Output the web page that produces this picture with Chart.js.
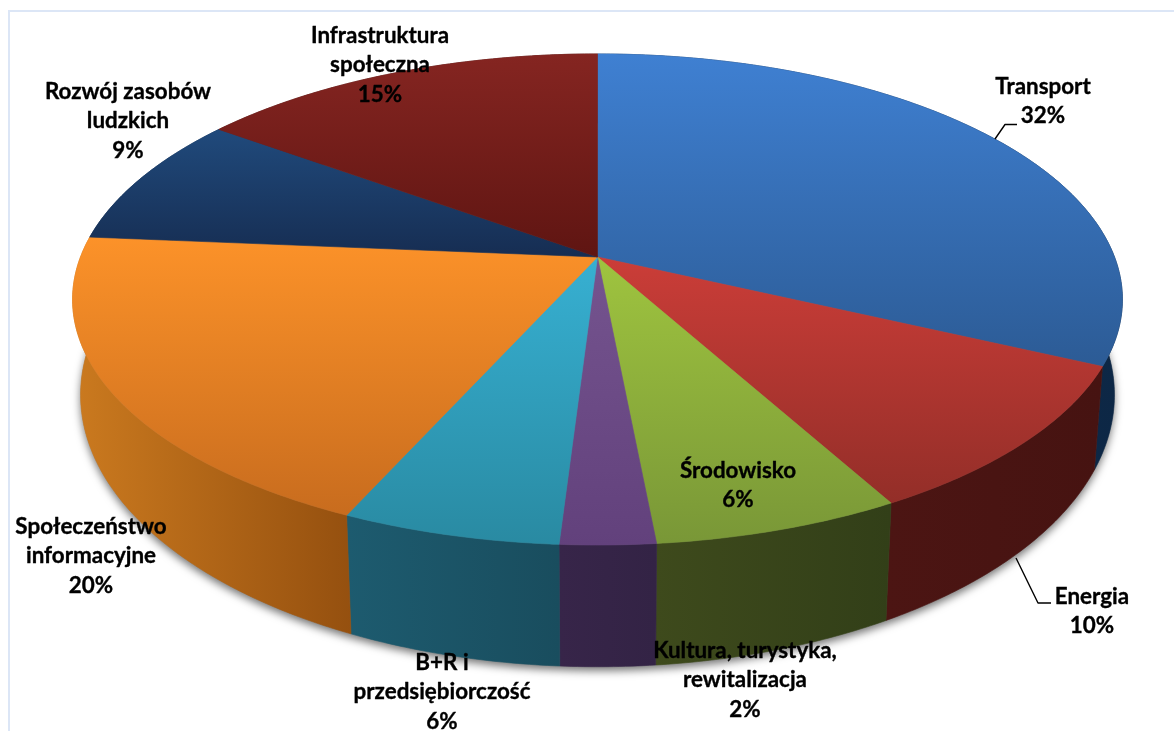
<!DOCTYPE html>
<html lang="pl">
<head>
<meta charset="utf-8">
<title>Wykres</title>
<script src="https://cdn.jsdelivr.net/npm/chart.js@4"></script>
<style>html,body{margin:0;padding:0;background:#fff}canvas{display:block}</style>
</head>
<body>
<canvas id="c" width="1174" height="731"></canvas>
<script>
// Data (slice sizes; labels show the rounded percentage)
const categories = [
  ['Transport'],
  ['Energia'],
  ['Środowisko'],
  ['Kultura, turystyka,', 'rewitalizacja'],
  ['B+R i', 'przedsiębiorczość'],
  ['Społeczeństwo', 'informacyjne'],
  ['Rozwój zasobów', 'ludzkich'],
  ['Infrastruktura', 'społeczna']
];
const shares = [32, 10, 6.49, 2.49, 5.72, 19.65, 8.7, 14.95];

// Styles
const topLight  = ['#3f80d2', '#cb3d38', '#9fc43f', '#75548f', '#37b0d2', '#fc9229', '#204a7c', '#852521'];
const topDark   = ['#2c5b95', '#932e28', '#799737', '#62417c', '#298aa2', '#c86c1e', '#162d52', '#5f1512'];
const wallLight = ['#102f55', '#4c1513', '#3e4a1c', '#372549', '#1d5b6f', '#cb7a1f', '#0f2c50', '#4a1412'];
const wallDark  = ['#0d2745', '#461311', '#323f18', '#332345', '#194d5e', '#95500f', '#0f2c50', '#4a1412'];

// Label anchors: centre x, then the centre y of the first line
const labelAnchors = [[1043, 87], [1092, 597], [738, 471], [745, 651], [442, 663], [91, 527], [128, 92], [380, 36]];
const lineStep = 29.2;
const labelFont = 'bold 22.4px Lato, Carlito, "Open Sans", sans-serif';
const leaders = [
  [[995, 139], [1005, 124.5], [1017, 124.5]],
  [[1016, 558], [1038, 603], [1051, 603]]
];

// Perspective camera for the tilted disc
const view = { cx: 597.5, cy: 257, sx: 517, tilt: -0.173, depth: 0.015, ay0: 238.2, ay1: 252, drop: 93 };
function project(px, py, z) {
  const w = 1 + view.tilt * py + view.depth * z;
  const ay = view.ay0 + (view.ay1 - view.ay0) * z;
  return [view.cx + view.sx * px / w, view.cy + (ay * py + view.drop * z) / w];
}
function rimPoints(a0, a1, z) {
  const pts = [], n = Math.max(2, Math.ceil((a1 - a0) / 0.01));
  for (let i = 0; i <= n; i++) {
    const a = a0 + (a1 - a0) * i / n;
    pts.push(project(Math.cos(a), Math.sin(a), z));
  }
  return pts;
}
function trace(ctx, pts) {
  ctx.beginPath();
  pts.forEach((p, i) => i ? ctx.lineTo(p[0], p[1]) : ctx.moveTo(p[0], p[1]));
  ctx.closePath();
}

const tiltedPie = {
  id: 'tiltedPie',
  beforeDatasetsDraw(chart) {
    const ctx = chart.ctx;
    const arcs = chart.getDatasetMeta(0).data;
    ctx.save();

    // frame
    ctx.fillStyle = '#dce6f6';
    ctx.fillRect(8, 10, 1166, 2);
    ctx.fillRect(8, 10, 2, 721);

    // shadow beneath the base
    ctx.save();
    ctx.shadowColor = 'rgba(0,0,0,0.55)';
    ctx.shadowBlur = 9;
    ctx.shadowOffsetY = 4;
    ctx.fillStyle = '#888';
    trace(ctx, rimPoints(0, Math.PI * 2, 1));
    ctx.fill();
    ctx.restore();

    // outer walls
    arcs.forEach((arc, i) => {
      const upper = rimPoints(arc.startAngle, arc.endAngle, 0);
      const lower = rimPoints(arc.startAngle, arc.endAngle, 1);
      const xs = upper.concat(lower).map(p => p[0]);
      const g = ctx.createLinearGradient(Math.min(...xs), 0, Math.max(...xs), 0);
      g.addColorStop(0, wallLight[i]);
      g.addColorStop(1, wallDark[i]);
      trace(ctx, upper.concat(lower.reverse()));
      ctx.fillStyle = g;
      ctx.strokeStyle = g;
      ctx.lineWidth = 0.6;
      ctx.fill();
      ctx.stroke();
    });

    // top faces
    arcs.forEach((arc, i) => {
      const rim = rimPoints(arc.startAngle, arc.endAngle, 0);
      const pts = [project(0, 0, 0)].concat(rim);
      const ys = pts.map(p => p[1]);
      const g = ctx.createLinearGradient(0, Math.min(...ys), 0, Math.max(...ys));
      g.addColorStop(0, topLight[i]);
      g.addColorStop(1, topDark[i]);
      trace(ctx, pts);
      ctx.fillStyle = g;
      ctx.strokeStyle = g;
      ctx.lineWidth = 0.6;
      ctx.fill();
      ctx.stroke();
    });

    // leader lines
    ctx.strokeStyle = '#000';
    ctx.lineWidth = 1.4;
    ctx.lineJoin = 'round';
    leaders.forEach(l => {
      ctx.beginPath();
      l.forEach((p, i) => i ? ctx.lineTo(p[0], p[1]) : ctx.moveTo(p[0], p[1]));
      ctx.stroke();
    });

    // labels
    ctx.fillStyle = '#000';
    ctx.strokeStyle = '#000';
    ctx.lineWidth = 0.35;
    ctx.font = labelFont;
    ctx.textAlign = 'center';
    ctx.textBaseline = 'middle';
    categories.forEach((lines, i) => {
      const [x, y] = labelAnchors[i];
      lines.concat(Math.round(shares[i]) + '%').forEach((t, k) => {
        ctx.fillText(t, x, y + k * lineStep);
        ctx.strokeText(t, x, y + k * lineStep);
      });
    });
    ctx.restore();
    return false;
  }
};

new Chart(document.getElementById('c'), {
  type: 'pie',
  data: {
    labels: categories,
    datasets: [{ data: shares, backgroundColor: topLight, borderWidth: 0 }]
  },
  options: {
    responsive: false,
    animation: false,
    rotation: 0,
    plugins: { legend: { display: false }, tooltip: { enabled: false } }
  },
  plugins: [tiltedPie]
});
</script>
</body>
</html>
